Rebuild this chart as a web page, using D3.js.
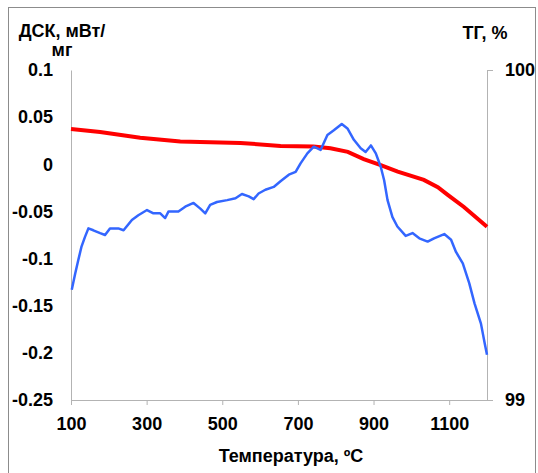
<!DOCTYPE html>
<html>
<head>
<meta charset="utf-8">
<script src="https://cdn.jsdelivr.net/npm/d3@7"></script>
<style>
  body { margin: 0; background: #fff; }
  text { font-family: "Liberation Sans", Arial, sans-serif; font-weight: bold; fill: #000; }
</style>
</head>
<body>
<div id="chart"></div>
<script>
// temperature ticks and axis labels
var xTicks = [100, 300, 500, 700, 900, 1100];
var dscTicks = [0.1, 0.05, 0, -0.05, -0.1, -0.15, -0.2, -0.25];
var tgTicks = [99, 100];

// DSC curve (left axis)
var dscT = [102, 111, 119, 128, 137, 146, 159, 177, 190, 203, 225, 239, 261, 278, 301, 318, 336, 349, 358, 384,
  402, 424, 442, 455, 468, 486, 513, 535, 552, 570, 583, 596, 614, 636, 654, 676, 694, 707, 725, 742,
  760, 778, 795, 816, 831, 848, 866, 879, 893, 906, 919, 928, 937, 950, 963, 985, 1003, 1021, 1043, 1060,
  1087, 1105, 1118, 1136, 1153, 1167, 1184, 1194, 1200];
var dscV = [-0.133, -0.116, -0.102, -0.087, -0.077, -0.068, -0.070, -0.073, -0.075, -0.068, -0.068, -0.070, -0.059, -0.054, -0.0485, -0.052, -0.052, -0.057, -0.050, -0.050,
  -0.045, -0.041, -0.047, -0.052, -0.043, -0.040, -0.038, -0.036, -0.0315, -0.034, -0.037, -0.031, -0.027, -0.024, -0.018, -0.011, -0.008, 0.001, 0.0116, 0.0187,
  0.0152, 0.031, 0.036, 0.0427, 0.038, 0.026, 0.017, 0.013, 0.020, 0.0116, -0.0026, -0.017, -0.038, -0.056, -0.066, -0.076, -0.073, -0.0785, -0.082, -0.0785,
  -0.074, -0.080, -0.093, -0.105, -0.126, -0.1475, -0.169, -0.190, -0.202];

// TG curve (right axis)
var tgT = [100, 177, 283, 389, 548, 654, 741, 786, 832, 874, 919, 964, 1033, 1070, 1097, 1139, 1200];
var tgV = [99.821, 99.812, 99.795, 99.783, 99.779, 99.770, 99.768, 99.763, 99.752, 99.730, 99.712, 99.692, 99.667, 99.645, 99.621, 99.585, 99.525];

var W = 538, H = 473;
var plotLeft = 71, plotRight = 487, plotTop = 70, plotBottom = 400;

var svg = d3.select("#chart")
  .append("svg")
    .attr("width", W)
    .attr("height", H);

// outer frame
svg.append("rect")
  .attr("x", 8.5).attr("y", 7.5)
  .attr("width", 527).attr("height", 500)
  .attr("fill", "none")
  .attr("stroke", "#8c8c8c");

var x = d3.scaleLinear().domain([100, 1200]).range([plotLeft, plotRight]);
var y = d3.scaleLinear().domain([-0.25, 0.1]).range([plotBottom, plotTop]);
var y2 = d3.scaleLinear().domain([99, 100]).range([plotBottom, plotTop]);

// bottom axis
var gx = svg.append("g")
  .attr("transform", "translate(0," + plotBottom + ")")
  .call(d3.axisBottom(x).tickValues(xTicks).tickSize(5).tickSizeOuter(0).tickPadding(12).tickFormat(d3.format("d")));
gx.select(".domain").attr("stroke", "#b3b3b3");
gx.selectAll(".tick line").attr("stroke", "#b3b3b3");
gx.selectAll("text").style("font-size", "18px").attr("fill", "#000");

// left axis (no tick marks)
var gy = svg.append("g")
  .attr("transform", "translate(" + plotLeft + ",0)")
  .call(d3.axisLeft(y).tickValues(dscTicks).tickSize(0).tickSizeOuter(0).tickPadding(18).tickFormat(function(d) { return String(+d.toFixed(2)); }));
gy.select(".domain").attr("stroke", "#b3b3b3");
gy.selectAll("text").style("font-size", "18px").attr("fill", "#000");

// right axis
var gy2 = svg.append("g")
  .attr("transform", "translate(" + plotRight + ",0)")
  .call(d3.axisRight(y2).tickValues(tgTicks).tickSize(6).tickSizeOuter(0).tickPadding(12).tickFormat(d3.format("d")));
gy2.select(".domain").attr("stroke", "#b3b3b3");
gy2.selectAll(".tick line").attr("stroke", "#b3b3b3");
gy2.selectAll("text").style("font-size", "18px").attr("fill", "#000");

// TG line
var tgData = tgT.map(function(t, i) { return [t, tgV[i]]; });
svg.append("path")
  .datum(tgData)
  .attr("fill", "none")
  .attr("stroke", "#ff0000")
  .attr("stroke-width", 4)
  .attr("d", d3.line().x(function(d) { return x(d[0]); }).y(function(d) { return y2(d[1]); }));

// DSC line
var dscData = dscT.map(function(t, i) { return [t, dscV[i]]; });
svg.append("path")
  .datum(dscData)
  .attr("fill", "none")
  .attr("stroke", "#3366ff")
  .attr("stroke-width", 2.5)
  .attr("stroke-linejoin", "round")
  .attr("d", d3.line().x(function(d) { return x(d[0]); }).y(function(d) { return y(d[1]); }));

// titles
svg.append("text").attr("x", 62).attr("y", 37).attr("text-anchor", "middle").style("font-size", "18px").text("ДСК, мВт/");
svg.append("text").attr("x", 62).attr("y", 56).attr("text-anchor", "middle").style("font-size", "18px").text("мг");
svg.append("text").attr("x", 485).attr("y", 39).attr("text-anchor", "middle").style("font-size", "18px").text("ТГ, %");
svg.append("text").attr("x", 291).attr("y", 462).attr("text-anchor", "middle").style("font-size", "18px").text("Температура, ºС");
</script>
</body>
</html>
